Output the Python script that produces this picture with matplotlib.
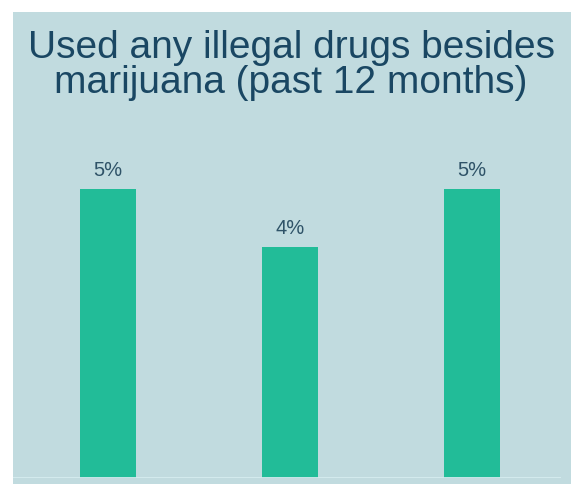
import matplotlib.pyplot as plt
from matplotlib.patches import Rectangle

# survey values (percent)
groups = ["A", "B", "C"]
values = [5, 4, 5]
labels = ["5%", "4%", "5%"]

BG = "#c1dbdf"
BAR = "#22bc98"
TITLE = "#1a4763"
VAL = "#2f5368"

plt.rcParams["font.family"] = ["Liberation Sans", "DejaVu Sans"]

W, H = 571, 485
fig = plt.figure(figsize=(W / 100, H / 100), dpi=100)
fig.patch.set_facecolor("white")

# slide panel behind the chart
fig.add_artist(Rectangle((13 / W, 0), 1 - 13 / W, 1 - 13 / H,
                         transform=fig.transFigure, facecolor=BG,
                         edgecolor="none", zorder=0))

fig.text(291 / W, 1 - 48 / H, "Used any illegal drugs besides",
         ha="center", va="center", fontsize=28, color=TITLE)
fig.text(291 / W, 1 - 83 / H, "marijuana (past 12 months)",
         ha="center", va="center", fontsize=28, color=TITLE)

# axes placed so bars land at 108/290/472 px, baseline at 479 px
x0, x1 = 13, 561
y_base, y_top = 479, 132
ax = fig.add_axes([x0 / W, (H - y_base) / H, (x1 - x0) / W, (y_base - y_top) / H])
ax.set_facecolor("none")
pos = list(range(len(groups)))
ax.bar(pos, values, width=56 / 182, color=BAR, zorder=2)
ax.set_xlim(-(108 - x0) / 182, 2 + (x1 - 472) / 182)
ax.set_ylim(0, 6)
for p, v, t in zip(pos, values, labels):
    ax.annotate(t, (p, v), xytext=(0, 7), textcoords="offset points",
                ha="center", va="bottom", fontsize=14.5, color=VAL)

for s in ax.spines.values():
    s.set_visible(False)
ax.axhline(0, color="#d6ecef", lw=2, zorder=3)
ax.set_xticks([])
ax.set_yticks([])

fig.savefig("out.png", dpi=100)
